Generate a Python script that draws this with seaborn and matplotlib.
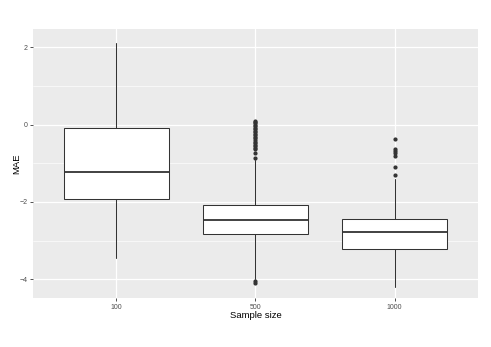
import matplotlib
matplotlib.use("Agg")
import matplotlib.pyplot as plt
from matplotlib.ticker import MultipleLocator
import seaborn as sns

# -----------------------------
# Data
# -----------------------------
sample_sizes = ["100", "500", "1000"]
q1 = [-1.93, -2.84, -3.21]
medians = [-1.23, -2.48, -2.79]
q3 = [-0.10, -2.07, -2.45]
whisker_low = [-3.46, -3.99, -4.20]
whisker_high = [2.12, -0.92, -1.42]
outliers_100 = []
outliers_500 = [0.09, 0.06, 0.03, 0.00, -0.04, -0.08, -0.12, -0.16, -0.20,
                -0.24, -0.28, -0.32, -0.36, -0.40, -0.44, -0.48, -0.52,
                -0.56, -0.60, -0.63, -0.74, -0.87, -4.06, -4.09]
outliers_1000 = [-0.38, -0.62, -0.68, -0.74, -0.81, -1.11, -1.30]

sns.set_theme(style="darkgrid")
plt.rcParams["font.family"] = ["Liberation Sans", "DejaVu Sans"]

fig, ax = plt.subplots(figsize=(4.91, 3.47), dpi=100)
fig.subplots_adjust(left=0.067, right=0.9735, top=0.916, bottom=0.141)

ax.set_facecolor("#EBEBEB")

stats = []
for i, name in enumerate(sample_sizes):
    stats.append({
        "label": name,
        "q1": q1[i],
        "med": medians[i],
        "q3": q3[i],
        "whislo": whisker_low[i],
        "whishi": whisker_high[i],
        "fliers": [outliers_100, outliers_500, outliers_1000][i],
    })

line_col = "#333333"
ax.bxp(
    stats,
    positions=range(len(sample_sizes)),
    widths=0.75,
    patch_artist=True,
    showcaps=False,
    boxprops=dict(facecolor="white", edgecolor=line_col, linewidth=0.75),
    whiskerprops=dict(color=line_col, linewidth=0.75),
    medianprops=dict(color=line_col, linewidth=1.3),
    flierprops=dict(marker="o", markersize=2.0, markerfacecolor=line_col,
                    markeredgecolor=line_col, linestyle="none"),
    zorder=3,
)

ax.set_xlim(-0.6, 2.6)
ax.set_ylim(-4.49, 2.47)
ax.set_xticks(range(len(sample_sizes)))
ax.set_xticklabels(sample_sizes)
ax.yaxis.set_major_locator(MultipleLocator(2))
ax.yaxis.set_minor_locator(MultipleLocator(1))

ax.grid(which="major", color="white", linewidth=0.9)
ax.grid(which="minor", axis="y", color="white", linewidth=0.45)
ax.set_axisbelow(True)
for s in ax.spines.values():
    s.set_visible(False)

ax.tick_params(axis="both", which="major", length=2.5, width=0.6,
               color=line_col, labelsize=5, labelcolor="#4D4D4D",
               bottom=True, left=True, pad=1.5)
ax.tick_params(axis="y", which="minor", length=0, left=False)

ax.set_xlabel("Sample size", fontsize=6.8, color="black", labelpad=0.5)
ax.set_ylabel("MAE", fontsize=6.8, color="black", labelpad=1)
ax.yaxis.set_label_coords(-0.027, 0.5)

plt.savefig("out.png", dpi=100)
plt.close()
